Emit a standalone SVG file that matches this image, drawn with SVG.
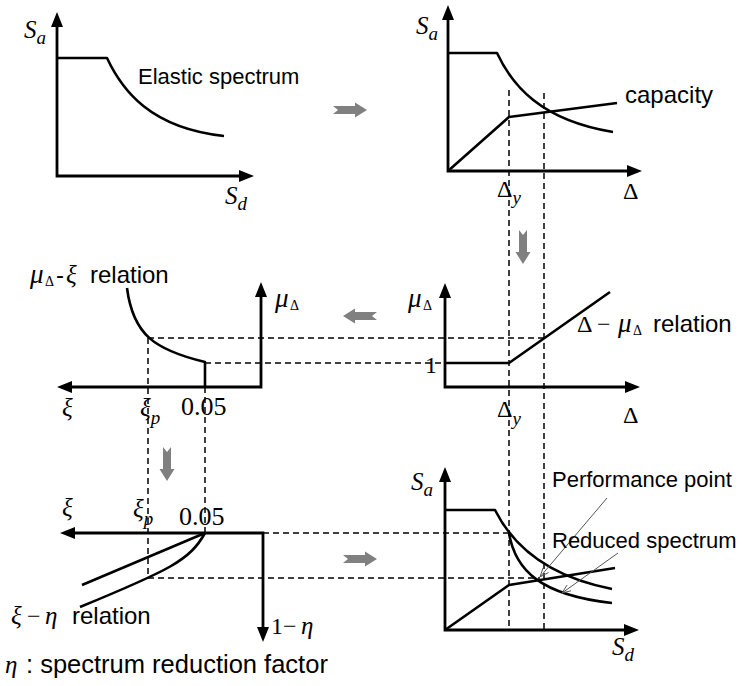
<svg xmlns="http://www.w3.org/2000/svg" xmlns:xlink="http://www.w3.org/1999/xlink" width="742" height="686" viewBox="0 0 742 686">
<style>
.ax{fill:none;stroke:#000;stroke-width:2.8;marker-start:url(#ah);marker-end:url(#ah)}
.cv{fill:none;stroke:#000;stroke-width:2.6;stroke-linejoin:round}
.ds{fill:none;stroke:#000;stroke-width:1.5;stroke-dasharray:6 4}
.an{fill:none;stroke:#555;stroke-width:1;marker-end:url(#thin)}
.sans{font-family:"Liberation Sans",Arial,sans-serif;font-size:22px;fill:#000}
.big{font-size:24px}
.mi{font-family:"Liberation Serif","Times New Roman",serif;font-style:italic;font-size:25px;fill:#000}
.mu{font-family:"Liberation Serif","Times New Roman",serif;font-style:italic;font-size:27px;fill:#000}
.mr{font-family:"Liberation Serif","Times New Roman",serif;font-size:24px;fill:#000}
.sub{font-size:19px}
.dsub{font-family:"Liberation Serif",serif;font-style:normal;font-size:14px}
</style>
<defs>
<marker id="ah" viewBox="0 0 15 12" refX="5" refY="6" markerWidth="15" markerHeight="12" markerUnits="userSpaceOnUse" orient="auto-start-reverse"><path d="M0,0 L15,6 L0,12 Z" fill="#000"/></marker>
<marker id="thin" viewBox="0 0 10 10" refX="10" refY="5" markerWidth="9" markerHeight="9" markerUnits="userSpaceOnUse" orient="auto"><path d="M0,1 L10,5 L0,9" fill="none" stroke="#555" stroke-width="1"/></marker>
<path id="garrow" d="M0,-4 L22,-4 L22,-7.5 L34,0 L22,7.5 L22,4 L0,4 L5,0 Z" fill="#808080"/>
</defs>

<g id="connectors">
<use href="#garrow" transform="translate(333,110)"/>
<use href="#garrow" transform="translate(523,230) rotate(90)"/>
<use href="#garrow" transform="translate(377,316) rotate(180)"/>
<use href="#garrow" transform="translate(167,447) rotate(90)"/>
<use href="#garrow" transform="translate(343,559)"/>
<path class="ds" d="M509,90 V630"/>
<path class="ds" d="M544,93 V633"/>
<path class="ds" d="M148,338 H544"/>
<path class="ds" d="M205,363 H445"/>
<path class="ds" d="M148,338 V578"/>
<path class="ds" d="M205,387 V533"/>
<path class="ds" d="M263,533 H509"/>
<path class="ds" d="M148,578 H540"/>
</g>

<g id="elastic-spectrum">
<path class="ax" d="M57,22 L57,176 L244,176"/>
<path class="cv" d="M57,58 L107,58 C122,90 150,128 224,136"/>
<text class="sans" x="138" y="84">Elastic spectrum</text>
<text class="mi" x="24" y="38">S<tspan class="sub" dy="6">a</tspan></text>
<text class="mi" x="225" y="204">S<tspan class="sub" dy="6">d</tspan></text>
</g>

<g id="capacity">
<path class="ax" d="M448,15 L448,171 L632,171"/>
<path class="cv" d="M448,53 L497,53 C512,85 540,120 613,132"/>
<path class="cv" d="M448,171 L509,117 L617,103"/>
<text class="sans big" x="625" y="103">capacity</text>
<text class="mi" x="416" y="34">S<tspan class="sub" dy="6">a</tspan></text>
<text class="mr" x="497" y="197">Δ<tspan class="mi sub" dy="7">y</tspan></text>
<text class="mr" x="623" y="199">Δ</text>
</g>

<g id="delta-mu">
<path class="ax" d="M445,293 L445,387 L630,387"/>
<path class="cv" d="M445,363 L509,363 L610,292"/>
<text class="mu" x="408" y="307">μ</text>
<text class="dsub" x="423" y="310">Δ</text>
<text class="mr" x="425" y="373">1</text>
<text class="mr" x="497" y="417">Δ<tspan class="mi sub" dy="8">y</tspan></text>
<text class="mr" x="623" y="423">Δ</text>
<text class="mr" x="577" y="332">Δ −</text>
<text class="mu" x="618" y="332">μ</text>
<text class="dsub" x="633" y="335">Δ</text>
<text class="sans big" x="653" y="332">relation</text>
</g>

<g id="mu-xi">
<path class="ax" d="M261,292 L261,387 L67,387"/>
<path class="cv" d="M127,288 C133,335 155,350 205,362 L205,387"/>
<text class="mu" x="275" y="307">μ</text>
<text class="dsub" x="290" y="310">Δ</text>
<text class="mu" x="30" y="283">μ</text>
<text class="dsub" x="45" y="286">Δ</text>
<text class="sans big" x="56" y="283">-</text>
<text class="mi" x="66" y="283">ξ</text>
<text class="sans big" x="90" y="283">relation</text>
<text class="mi" x="62" y="416">ξ</text>
<text class="mi" x="140" y="416">ξ<tspan class="sub" dy="8">p</tspan></text>
<text class="mr" x="181" y="415" style="font-size:26px">0.05</text>
</g>

<g id="xi-eta">
<path class="ax" d="M70,533 L263,533 L263,632"/>
<path class="cv" d="M205,533 L82,585"/>
<path class="cv" d="M205,533 C190,560 170,570 80,607"/>
<text class="mi" x="62" y="516">ξ</text>
<text class="mi" x="133" y="517">ξ<tspan class="sub" dy="8">p</tspan></text>
<text class="mr" x="179" y="525" style="font-size:26px">0.05</text>
<text class="mi" x="11" y="624">ξ</text>
<text class="mr" x="27" y="624">−</text>
<text class="mi" x="45" y="624">η</text>
<text class="sans big" x="72" y="624">relation</text>
<text class="mr" x="271" y="634">1</text>
<text class="mr" x="283" y="634">−</text>
<text class="mi" x="301" y="634">η</text>
</g>

<g id="performance">
<path class="ax" d="M445,477 L445,630 L629,630"/>
<path class="cv" d="M445,510 L495,510 C510,540 540,575 612,589"/>
<path class="cv" d="M509,533 C515,570 540,595 612,603"/>
<path class="cv" d="M445,630 L509,585 L615,568"/>
<path class="an" d="M607,498 L540,577"/>
<path class="an" d="M618,553 L562,593"/>
<text class="sans" x="552" y="487">Performance point</text>
<text class="sans" x="552" y="548">Reduced spectrum</text>
<text class="mi" x="411" y="490">S<tspan class="sub" dy="6">a</tspan></text>
<text class="mi" x="612" y="655">S<tspan class="sub" dy="6">d</tspan></text>
</g>

<g id="note">
<text class="mi" x="5" y="673">η</text>
<text class="sans" x="26" y="673" style="font-size:25.5px">: spectrum reduction factor</text>
</g>
</svg>
